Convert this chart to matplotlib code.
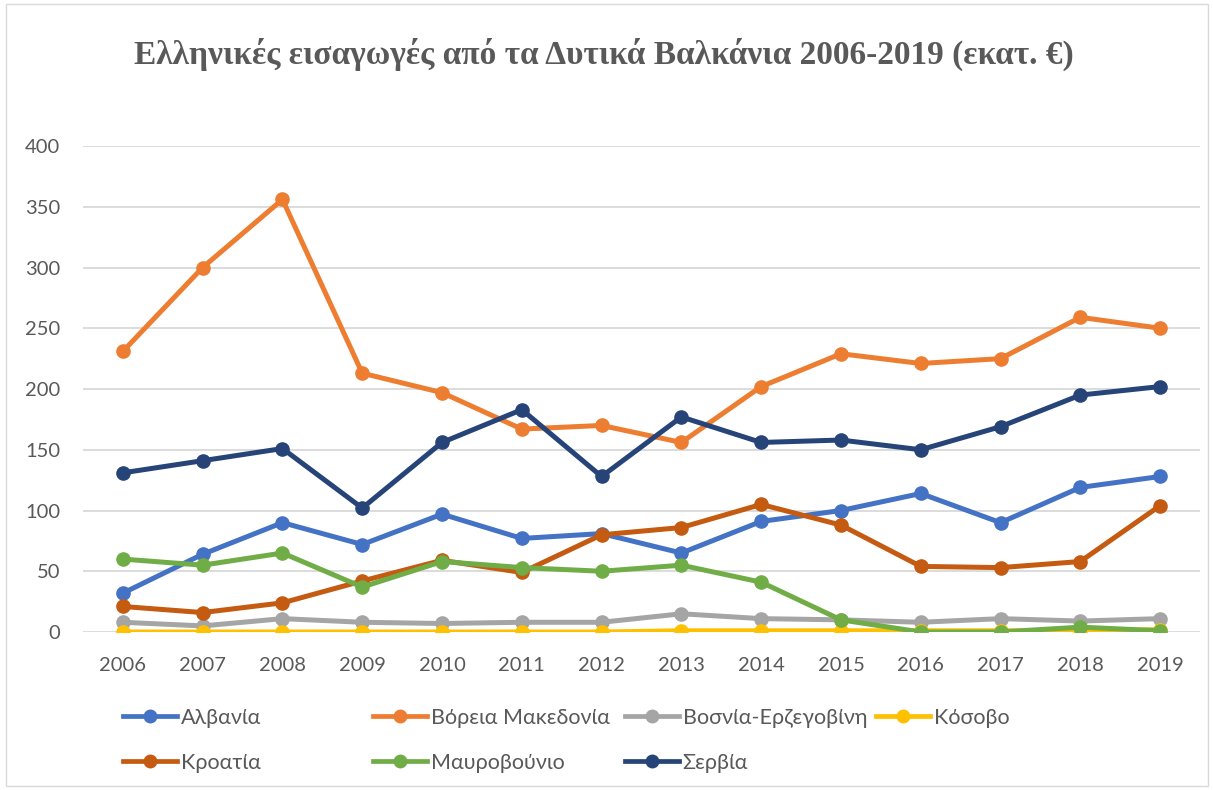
import matplotlib
matplotlib.use("Agg")
import matplotlib.pyplot as plt
from matplotlib.lines import Line2D
from matplotlib.patches import Rectangle

years = ["2006", "2007", "2008", "2009", "2010", "2011", "2012",
         "2013", "2014", "2015", "2016", "2017", "2018", "2019"]

albania = [32, 64, 90, 72, 97, 77, 81, 65, 91, 100, 114, 90, 119, 128]
north_macedonia = [231, 300, 356, 213, 197, 167, 170, 156, 202, 229, 221, 225, 259, 250]
bosnia = [8, 5, 11, 8, 7, 8, 8, 15, 11, 10, 8, 11, 9, 11]
kosovo = [0, 0, 0, 0, 0, 0, 0, 1, 1, 1, 1, 1, 1, 2]
croatia = [21, 16, 24, 42, 59, 49, 80, 86, 105, 88, 54, 53, 58, 104]
montenegro = [60, 55, 65, 37, 58, 53, 50, 55, 41, 10, 0, 0, 4, 1]
serbia = [131, 141, 151, 102, 156, 183, 128, 177, 156, 158, 150, 169, 195, 202]

names = ["Αλβανία", "Βόρεια Μακεδονία", "Βοσνία-Ερζεγοβίνη", "Κόσοβο",
         "Κροατία", "Μαυροβούνιο", "Σερβία"]
series = [albania, north_macedonia, bosnia, kosovo, croatia, montenegro, serbia]
colors = ["#4472C4", "#ED7D31", "#A5A5A5", "#FFC000", "#C55A11", "#70AD47", "#264478"]

W, H = 1213, 790
fig = plt.figure(figsize=(W / 100, H / 100), dpi=100)
fig.patches.append(Rectangle((6 / W, 4 / H), 1 - 11 / W, 1 - 8 / H, transform=fig.transFigure,
                             fill=False, edgecolor="#d9d9d9", linewidth=1.0))

ax = fig.add_axes([83 / W, 1 - 632 / H, (1200 - 83) / W, (632 - 146) / H])
x = list(range(len(years)))
handles = []
for vals, c, n in zip(series, colors, names):
    h, = ax.plot(x, vals, color=c, linewidth=3.6, marker="o", markersize=9.5,
                 label=n, solid_capstyle="round", zorder=3)
    handles.append(h)

ax.set_xlim(-0.5, len(years) - 0.5)
ax.set_ylim(0, 400)
ax.set_yticks(range(0, 401, 50))
ax.set_xticks(x)
ax.set_xticklabels(years)
ax.grid(axis="y", color="#d9d9d9", linewidth=1.3, zorder=0)
ax.set_axisbelow(True)
for s in ["top", "right", "left", "bottom"]:
    ax.spines[s].set_visible(False)
ax.tick_params(axis="both", length=0, labelsize=14.5, labelcolor="#595959")
ax.tick_params(axis="x", pad=18)
ax.tick_params(axis="y", pad=16.5)
for lbl in ax.get_xticklabels() + ax.get_yticklabels():
    lbl.set_fontfamily("Lato")

fig.text(604 / W, 1 - 54 / H, "Ελληνικές εισαγωγές από τα Δυτικά Βαλκάνια 2006-2019 (εκατ. €)",
         ha="center", va="center", fontsize=24, fontweight="bold",
         family="Liberation Serif", color="#595959")

legend_pos = [(123, 718), (373, 718), (625, 718), (876, 718),
              (123, 763), (373, 763), (625, 763)]
for h, (lx, ly) in zip(handles, legend_pos):
    proxy = Line2D([0], [0], color=h.get_color(), linewidth=3.4, marker="o", markersize=9)
    lg = fig.legend([proxy], [h.get_label()], loc="center left",
                    bbox_to_anchor=(lx / W, 1 - ly / H), frameon=False,
                    handlelength=2.5, handletextpad=0.18, borderpad=0, borderaxespad=0,
                    prop={"family": "Lato", "size": 15.5})
    for t in lg.get_texts():
        t.set_color("#595959")

fig.savefig("out.png", dpi=100)
